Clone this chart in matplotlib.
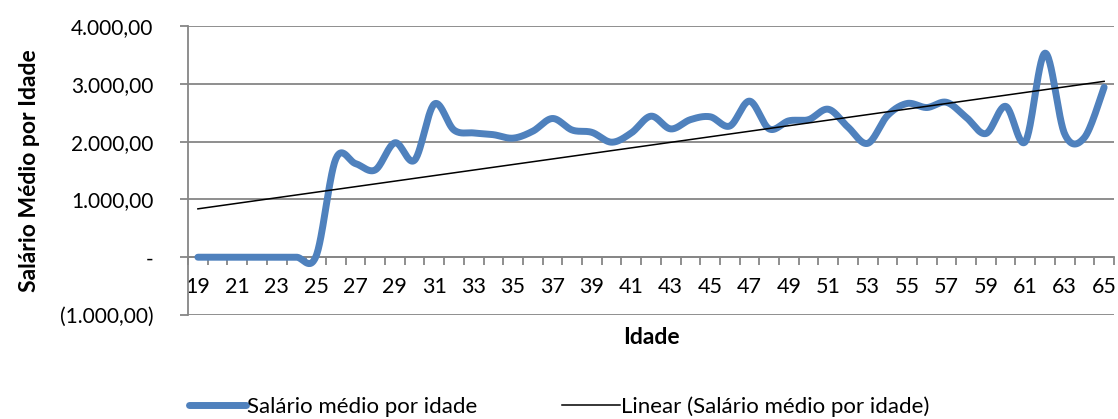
import matplotlib
matplotlib.use("Agg")
import matplotlib.pyplot as plt
import numpy as np

plt.rcParams['font.family'] = ['Lato', 'DejaVu Sans']

idades = list(range(19, 66))
salario = [0, 0, 0, 0, 0, 0, 20, 1700, 1620, 1510, 1980, 1680, 2650, 2200, 2150,
           2120, 2060, 2180, 2400, 2200, 2160, 1990, 2150, 2440, 2220, 2380, 2430,
           2270, 2700, 2220, 2360, 2380, 2560, 2250, 1970, 2450, 2660, 2590, 2680,
           2420, 2140, 2610, 2000, 3530, 2130, 2070, 2940]
ytick_vals = [-1000, 0, 1000, 2000, 3000, 4000]
ytick_labels = ['(1.000,00)', '-', '1.000,00', '2.000,00', '3.000,00', '4.000,00']


def suavizar(x, y, n=30):
    # curva suavizada tipo Excel (Bezier / Catmull-Rom)
    x = np.asarray(x, float)
    y = np.asarray(y, float)
    px = np.concatenate([[x[0]], x, [x[-1]]])
    py = np.concatenate([[y[0]], y, [y[-1]]])
    t = np.linspace(0, 1, n)[:, None]
    xs, ys = [], []
    for i in range(1, len(x)):
        p0 = np.array([px[i], py[i]])
        p3 = np.array([px[i + 1], py[i + 1]])
        c1 = p0 + (p3 - np.array([px[i - 1], py[i - 1]])) / 6
        c2 = p3 - (np.array([px[i + 2], py[i + 2]]) - p0) / 6
        pts = ((1 - t) ** 3) * p0 + 3 * ((1 - t) ** 2) * t * c1 + 3 * (1 - t) * t ** 2 * c2 + t ** 3 * p3
        xs.extend(pts[:, 0])
        ys.extend(pts[:, 1])
    return np.array(xs), np.array(ys)


x = np.arange(len(idades))
fig = plt.figure(figsize=(11.18, 4.19), dpi=100)
ax = fig.add_axes([0.1682, 0.2482, 0.8282, 0.6897])

sx, sy = suavizar(x, salario)
ax.plot(sx, sy, color='#4F81BD', lw=5, solid_capstyle='round', label='Salário médio por idade', zorder=3)

a, b = np.polyfit(x, salario, 1)
ax.plot([x[0], x[-1]], [a * x[0] + b, a * x[-1] + b], color='black', lw=1.1,
        label='Linear (Salário médio por idade)', zorder=4)

ax.set_xlim(-0.5, len(idades) - 0.5)
ax.set_ylim(-1000, 4000)
ax.set_yticks(ytick_vals)
ax.set_yticklabels(ytick_labels, fontsize=15)
ax.grid(axis='y', color='#868686', lw=1.3)
ax.set_axisbelow(True)

ax.spines['top'].set_visible(False)
ax.spines['right'].set_visible(False)
ax.spines['bottom'].set_position(('data', 0))
for s in ['left', 'bottom']:
    ax.spines[s].set_color('#868686')
    ax.spines[s].set_linewidth(1.3)

ax.set_xticks(np.arange(-0.5, len(idades), 1))
ax.set_xticklabels([])
ax.set_xticks(x[::2], minor=True)
ax.set_xticklabels([str(v) for v in idades[::2]], minor=True, fontsize=15.5)
ax.tick_params(axis='x', which='major', length=6, color='#868686', width=1.3)
ax.tick_params(axis='x', which='minor', length=0, pad=14)
ax.tick_params(axis='y', length=6, color='#868686', width=1.3, pad=19)

ax.set_xlabel('Idade', fontsize=16.5, fontweight='bold', labelpad=22)
ax.set_ylabel('Salário Médio por Idade', fontsize=16.5, fontweight='bold', labelpad=14)

fig.legend(loc='center', bbox_to_anchor=(0.5, 0.03), ncol=2, frameon=False, fontsize=16,
           handlelength=2.6, columnspacing=3.8, handletextpad=0.05)

fig.savefig('out.png', dpi=100)
